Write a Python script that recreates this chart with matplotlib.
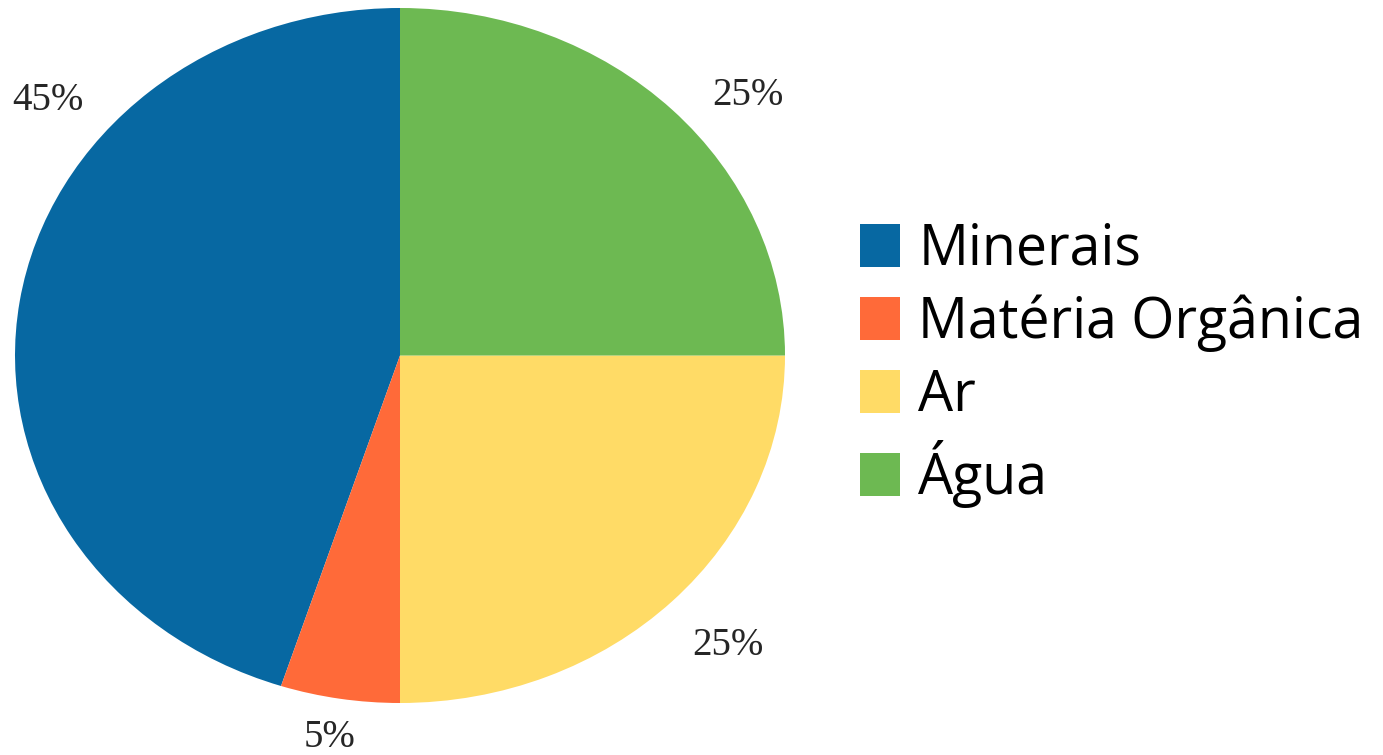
import matplotlib
matplotlib.use("Agg")
import matplotlib.pyplot as plt

categories = ["Minerais", "Matéria Orgânica", "Ar", "Água"]
values = [45, 5, 25, 25]
pct_labels = ["45%", "5%", "25%", "25%"]
colors = ["#0768A2", "#FF6A39", "#FFDB66", "#6DB952"]

# label positions (data coords of the pie axes, radius 1)
label_pos = [(-0.914, 0.734), (-0.182, -1.098), (0.852, -0.835), (0.904, 0.748)]

W, H = 1383, 755
fig = plt.figure(figsize=(W / 100, H / 100), dpi=100)
fig.patch.set_facecolor("white")

ax = fig.add_axes([15 / W, (H - 703) / H, 770 / W, 695 / H])
wedges, _ = ax.pie(values, colors=colors, startangle=90, counterclock=True,
                   wedgeprops=dict(linewidth=0))
ax.set_aspect("auto")
ax.set_xlim(-1, 1)
ax.set_ylim(-1, 1)
ax.axis("off")

for (x, y), t in zip(label_pos, pct_labels):
    ax.text(x, y, t, ha="center", va="center", fontsize=28,
            family="Liberation Serif", color="#262626", clip_on=False)

leg = fig.legend(wedges, categories, loc="center left",
                 bbox_to_anchor=(860 / W, (H - 365) / H),
                 frameon=False, borderpad=0, borderaxespad=0,
                 prop=dict(family="Open Sans", size=40),
                 handlelength=0.72, handleheight=0.81, handletextpad=0.33,
                 labelspacing=0.28)

fig.savefig("out.png", dpi=100, facecolor="white")
